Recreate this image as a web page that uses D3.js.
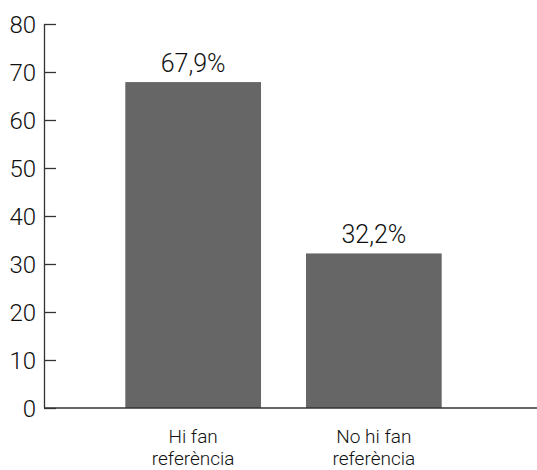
<!DOCTYPE html>
<html><head><meta charset="utf-8">
<script src="https://cdn.jsdelivr.net/npm/d3@7"></script>
<style>body{margin:0;background:#fff}svg{display:block}text{font-family:Roboto,"Liberation Sans",Arial,sans-serif;font-weight:300;fill:#111}</style>
</head><body><svg id="c" width="537" height="470"></svg>
<script>
const categories = [["Hi fan","referència"],["No hi fan","referència"]];
const values = [67.9, 32.2];
const valueLabels = ["67,9%","32,2%"];
const yTicks = [0,10,20,30,40,50,60,70,80];

const svg = d3.select("#c");
const x = d3.scaleBand().domain(d3.range(values.length)).range([44,523]).paddingInner(0.249).paddingOuter(0.45);
const y = d3.scaleLinear().domain([0,80]).range([408,24]);

svg.selectAll("rect.bar").data(values).join("rect").attr("class","bar")
  .attr("x",(d,i)=>x(i)).attr("width",x.bandwidth())
  .attr("y",d=>y(d)).attr("height",d=>y(0)-y(d)).attr("fill","#666");

const ya = svg.append("g").attr("transform","translate(44,0)")
  .call(d3.axisRight(y).tickValues(yTicks).tickSize(12).tickFormat(d3.format("d")));
ya.select(".domain").remove();
ya.selectAll(".tick line").attr("stroke","#333").attr("stroke-width",1.3);
ya.selectAll(".tick text").attr("x",-8).attr("dy","0.36em").attr("text-anchor","end").attr("font-size",24).attr("fill","#111").attr("font-family",null);
svg.append("line").attr("x1",44.5).attr("x2",44.5).attr("y1",y(80)).attr("y2",y(0)).attr("stroke","#333").attr("stroke-width",1.3);
svg.append("line").attr("x1",44).attr("x2",537).attr("y1",y(0)).attr("y2",y(0)).attr("stroke","#333").attr("stroke-width",1.5);

svg.selectAll("text.val").data(values).join("text").attr("class","val")
  .attr("x",(d,i)=>x(i)+x.bandwidth()/2).attr("y",d=>y(d)-10)
  .attr("text-anchor","middle").attr("font-size",25).text((d,i)=>valueLabels[i]);

categories.forEach((c,i)=>{
  c.forEach((line,j)=>{
    svg.append("text").attr("x",x(i)+x.bandwidth()/2).attr("y",443+j*22)
      .attr("text-anchor","middle").attr("font-size",19).text(line);
  });
});
</script></body></html>
